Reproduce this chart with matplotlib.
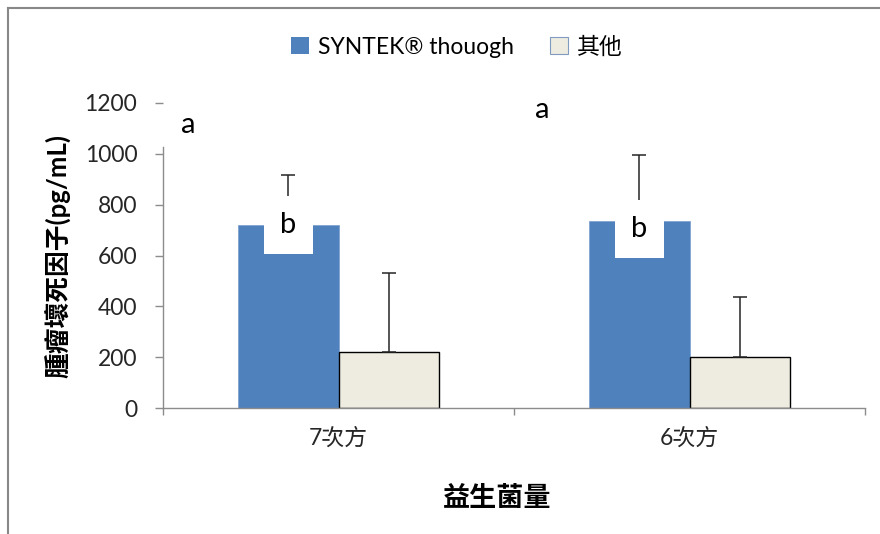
import numpy as np
import matplotlib
matplotlib.use("Agg")
import matplotlib.pyplot as plt
from matplotlib.lines import Line2D

plt.rcParams['font.family'] = ['Lato', 'Noto Sans CJK TC', 'DejaVu Sans']
plt.rcParams['axes.unicode_minus'] = False

# ===================== 数据 =====================
categories = ['7次方', '6次方']
series_names = ['SYNTEK® thouogh', '其他']
syntek_vals = [718, 737]
other_vals = [221, 201]
syntek_sd = [200, 256]
other_sd = [309, 236]
a_labels = ['a', 'a']
b_labels = ['b', 'b']
yticks = [0, 200, 400, 600, 800, 1000, 1200]

colors = ['#4F81BD', '#EEECE1']
axis_gray = '#8C8C8C'

# ===================== 画布 =====================
fig = plt.figure(figsize=(8.8, 5.34), dpi=100)
W, H = 880, 534
ax = fig.add_axes([163 / W, 1 - 408.3 / H, 702 / W, 305.6 / H])

x = np.arange(len(categories))
bw = 0.2857

ax.bar(x - bw / 2, syntek_vals, bw, color=colors[0], edgecolor='#7FA3D1',
       linewidth=0.6, zorder=2)
ax.bar(x + bw / 2, other_vals, bw, color=colors[1], edgecolor='black',
       linewidth=1.0, zorder=2)

# 只画上方误差线
ax.errorbar(x - bw / 2, syntek_vals, yerr=[np.zeros(len(x)), syntek_sd], fmt='none',
            ecolor='#262626', elinewidth=1.1, capsize=4.7, capthick=1.1, zorder=3)
ax.errorbar(x + bw / 2, other_vals, yerr=[np.zeros(len(x)), other_sd], fmt='none',
            ecolor='#262626', elinewidth=1.1, capsize=4.7, capthick=1.1, zorder=3)

# 显著性标记
for xi, lab, yy in zip(x, a_labels, [1112, 1171]):
    dx = -0.429 if xi == 0 else -0.42
    ax.text(xi + dx, yy, lab, fontsize=21, ha='center', va='center', zorder=5)
for xi, lab, yy in zip(x, b_labels, [720, 705]):
    ax.text(xi - bw / 2, yy, lab, fontsize=21, ha='center', va='center', zorder=5,
            bbox=dict(boxstyle='square,pad=0.55', facecolor='white', edgecolor='none'))

# ===================== 坐标轴 =====================
ax.set_xlim(-0.5, 1.5)
ax.set_ylim(0, 1200)
ax.set_yticks(yticks)
ax.tick_params(axis='y', direction='out', length=5.5, width=1, color=axis_gray,
               pad=13, labelsize=16.5, labelcolor='#262626')
ax.set_xticks([-0.5, 0.5, 1.5])
ax.set_xticklabels([])
ax.tick_params(axis='x', which='major', direction='out', length=5, width=1, color=axis_gray)
ax.set_xticks(x, labels=categories, minor=True)
ax.tick_params(axis='x', which='minor', length=0, pad=14, labelsize=16.5, labelcolor='#262626')

for s in ['top', 'right']:
    ax.spines[s].set_visible(False)
for s in ['left', 'bottom']:
    ax.spines[s].set_color(axis_gray)
    ax.spines[s].set_linewidth(1)
ax.spines['left'].set_bounds(0, 1027)

ax.set_ylabel('腫瘤壞死因子(pg/mL)', fontsize=18.5, fontweight='bold', va='center')
ax.yaxis.set_label_coords(-0.149, 0.5)
ax.set_xlabel('益生菌量', fontsize=19.5, fontweight='bold', va='center')
ax.xaxis.set_label_coords(0.476, -0.291)

# ===================== 图例 =====================
handles = [plt.Rectangle((0, 0), 1, 1, facecolor=colors[0], edgecolor='none'),
           plt.Rectangle((0, 0), 1, 1, facecolor=colors[1], edgecolor='#7F9BC0', linewidth=0.8)]
fig.legend(handles, series_names, loc='center', bbox_to_anchor=(457 / W, 1 - 47 / H),
           ncol=2, frameon=False, fontsize=16.5, handlelength=0.75, handleheight=0.75,
           handletextpad=0.4, columnspacing=1.6)

# 外框（上、左）
fig.add_artist(Line2D([7.5 / W, 1], [1 - 7.5 / H, 1 - 7.5 / H], color='#888888', lw=1.5))
fig.add_artist(Line2D([7.5 / W, 7.5 / W], [0, 1 - 7.5 / H], color='#888888', lw=1.5))

fig.savefig('out.png', dpi=100)
plt.close(fig)
